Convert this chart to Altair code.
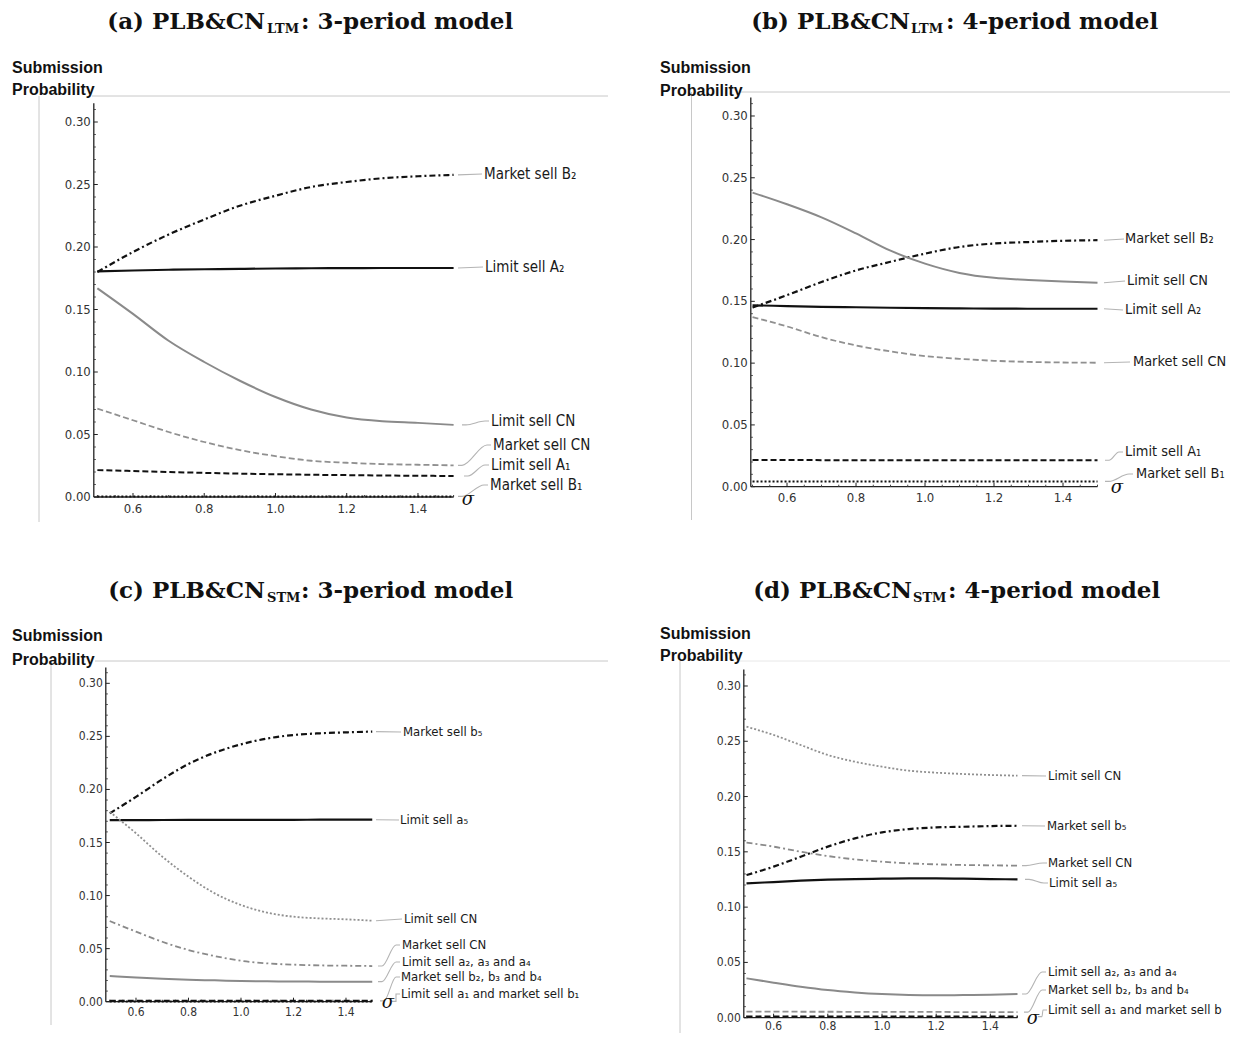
import altair as alt
import numpy as np
import pandas as pd

# ---------------- data ----------------
SIGMA = [0.5, 0.6, 0.7, 0.8, 0.9, 1.0, 1.1, 1.2, 1.3, 1.4, 1.5]

Y_TICKS = [0.00, 0.05, 0.10, 0.15, 0.20, 0.25, 0.30]
Y_TICK_LABELS = ["0.00", "0.05", "0.10", "0.15", "0.20", "0.25", "0.30"]
X_TICKS = [0.6, 0.8, 1.0, 1.2, 1.4]
X_TICK_LABELS = ["0.6", "0.8", "1.0", "1.2", "1.4"]
Y_MINOR = [round(v, 2) for v in np.arange(0.01, 0.311, 0.01) if round(v * 100) % 5 != 0]
X_MINOR = [0.5, 0.55, 0.65, 0.7, 0.75, 0.85, 0.9, 0.95, 1.05, 1.1, 1.15, 1.25, 1.3, 1.35, 1.45, 1.5]

# (a) PLB&CN_LTM : 3-period model
A_NAMES = ["Market sell B₂", "Limit sell A₂", "Limit sell CN", "Market sell CN", "Limit sell A₁", "Market sell B₁"]
A_MKT_B2 = [0.180, 0.196, 0.210, 0.222, 0.233, 0.241, 0.248, 0.252, 0.255, 0.2566, 0.2577]
A_LIM_A2 = [0.1805, 0.1812, 0.1818, 0.1822, 0.1825, 0.1828, 0.1830, 0.1831, 0.1832, 0.1832, 0.1832]
A_LIM_CN = [0.167, 0.1465, 0.125, 0.108, 0.093, 0.080, 0.070, 0.0636, 0.0606, 0.0593, 0.0577]
A_MKT_CN = [0.0707, 0.0614, 0.052, 0.044, 0.0375, 0.0327, 0.029, 0.0274, 0.0263, 0.0258, 0.0253]
A_LIM_A1 = [0.0215, 0.0208, 0.0200, 0.0193, 0.0187, 0.0182, 0.0178, 0.0175, 0.0172, 0.0170, 0.0168]
A_MKT_B1 = [0.0005, 0.0005, 0.0005, 0.0005, 0.0005, 0.0005, 0.0005, 0.0005, 0.0005, 0.0005, 0.0005]

# (b) PLB&CN_LTM : 4-period model
B_NAMES = ["Market sell B₂", "Limit sell A₂", "Limit sell CN", "Market sell CN", "Limit sell A₁", "Market sell B₁"]
B_MKT_B2 = [0.145, 0.155, 0.1657, 0.175, 0.182, 0.1886, 0.194, 0.1968, 0.198, 0.199, 0.1995]
B_LIM_A2 = [0.1468, 0.1462, 0.1456, 0.1452, 0.1448, 0.1445, 0.1443, 0.1441, 0.1440, 0.1440, 0.1440]
B_LIM_CN = [0.238, 0.2286, 0.218, 0.205, 0.191, 0.1805, 0.173, 0.169, 0.1673, 0.166, 0.165]
B_MKT_CN = [0.1373, 0.1297, 0.121, 0.1143, 0.1095, 0.1057, 0.1035, 0.1019, 0.101, 0.1005, 0.1003]
B_LIM_A1 = [0.0216, 0.0216, 0.0215, 0.0215, 0.0215, 0.0215, 0.0214, 0.0214, 0.0214, 0.0214, 0.0214]
B_MKT_B1 = [0.0043, 0.0043, 0.0043, 0.0043, 0.0043, 0.0043, 0.0043, 0.0043, 0.0043, 0.0043, 0.0043]

# (c) PLB&CN_STM : 3-period model
C_NAMES = ["Market sell b₅", "Limit sell a₅", "Limit sell CN", "Market sell CN",
           "Limit sell a₂, a₃ and a₄", "Market sell b₂, b₃ and b₄", "Limit sell a₁ and market sell b₁"]
C_MKT_B5 = [0.1775, 0.193, 0.2095, 0.224, 0.2347, 0.2425, 0.248, 0.2513, 0.2529, 0.2538, 0.2545]
C_LIM_A5 = [0.1710, 0.1711, 0.1712, 0.1713, 0.1713, 0.1714, 0.1714, 0.1714, 0.1715, 0.1715, 0.1715]
C_LIM_CN = [0.179, 0.1587, 0.1367, 0.1178, 0.1021, 0.0911, 0.0839, 0.0801, 0.0785, 0.0776, 0.0763]
C_MKT_CN = [0.076, 0.066, 0.0565, 0.0487, 0.043, 0.0386, 0.0361, 0.0349, 0.0342, 0.0339, 0.0336]
C_LIM_A234 = [0.0242, 0.0229, 0.0217, 0.0207, 0.0201, 0.0195, 0.0192, 0.0190, 0.0189, 0.0189, 0.0189]
C_MKT_B234 = [0.0008, 0.0008, 0.0008, 0.0008, 0.0008, 0.0008, 0.0008, 0.0008, 0.0008, 0.0008, 0.0008]
C_LIM_A1 = [0.0003, 0.0003, 0.0003, 0.0003, 0.0003, 0.0003, 0.0003, 0.0003, 0.0003, 0.0003, 0.0003]

# (d) PLB&CN_STM : 4-period model
D_NAMES = ["Limit sell CN", "Market sell b₅", "Market sell CN", "Limit sell a₅",
           "Limit sell a₂, a₃ and a₄", "Market sell b₂, b₃ and b₄", "Limit sell a₁ and market sell b"]
D_LIM_CN = [0.2632, 0.2557, 0.2466, 0.2376, 0.2315, 0.227, 0.2234, 0.2216, 0.2204, 0.2195, 0.2189]
D_MKT_B5 = [0.129, 0.1366, 0.1456, 0.1547, 0.1622, 0.1676, 0.1706, 0.1721, 0.1727, 0.1733, 0.1736]
D_MKT_CN = [0.1583, 0.1547, 0.1501, 0.1462, 0.1432, 0.1411, 0.1396, 0.1387, 0.1381, 0.1378, 0.1375]
D_LIM_A5 = [0.1215, 0.1227, 0.1239, 0.1248, 0.1254, 0.1257, 0.126, 0.126, 0.1257, 0.1254, 0.1251]
D_LIM_A234 = [0.0356, 0.0317, 0.028, 0.025, 0.0229, 0.0214, 0.0205, 0.0202, 0.0205, 0.0208, 0.0214]
D_MKT_B234 = [0.0055, 0.0055, 0.0054, 0.0054, 0.0053, 0.0053, 0.0052, 0.0052, 0.0051, 0.0051, 0.0050]
D_LIM_A1 = [0.0010, 0.0010, 0.0010, 0.0010, 0.0010, 0.0010, 0.0010, 0.0010, 0.0010, 0.0010, 0.0010]

TITLES = {
    "a": ("(a) PLB&CN", "LTM", ": 3-period model"),
    "b": ("(b) PLB&CN", "LTM", ": 4-period model"),
    "c": ("(c) PLB&CN", "STM", ": 3-period model"),
    "d": ("(d) PLB&CN", "STM", ": 4-period model"),
}

# ---------------- styles & layout (page pixels) ----------------
OFF = 8.0
LABEL_FONT = "DejaVu Sans Condensed, Liberation Sans, sans-serif"
TICK_FONT = "DejaVu Sans Condensed, Liberation Sans, sans-serif"

STYLES = {
    "blk_solid": dict(color="#111111", strokeWidth=2.2),
    "blk_dashdot": dict(color="#111111", strokeWidth=2.2, strokeDash=[6, 3, 2, 3]),
    "blk_dashed": dict(color="#111111", strokeWidth=2.0, strokeDash=[6, 3]),
    "blk_dotted": dict(color="#111111", strokeWidth=2.0, strokeDash=[2, 2]),
    "gry_solid": dict(color="#8a8a8a", strokeWidth=2.0),
    "gry_dashed": dict(color="#909090", strokeWidth=1.8, strokeDash=[6, 3]),
    "gry_dotted": dict(color="#909090", strokeWidth=1.8, strokeDash=[2, 2]),
    "gry_dashdot": dict(color="#8a8a8a", strokeWidth=1.8, strokeDash=[6, 3, 2, 3]),
}

LAYOUT = {
    "a": dict(x0=93.8, x1=453.6, xmin=0.49, y0=497.0, ytop=103.25, ymax=0.315,
              tick_fs=13, label_fs=15, xlab_dy=12,
              title=(265, 267, 301, 29, 33), sub=(12, 68, 90),
              hrule=(92, 608, 96, "#c8c8c8"), vrule=(39, 96, 522),
              sigma=(468, 500),
              labels=[(458, 482, 174, 484), (458, 483, 267, 485), (462, 489, 421, 491),
                      (458, 491, 445, 493), (464, 489, 465, 491), (458, 488, 485, 490)]),
    "b": dict(x0=750.8, x1=1097.5, xmin=0.495, y0=486.7, ytop=97.45, ymax=0.315,
              tick_fs=13, label_fs=14.4, xlab_dy=11,
              title=(910, 911, 946, 29, 33), sub=(660, 68, 91),
              hrule=(739, 1238, 92, "#c8c8c8"), vrule=(691.5, 92, 520),
              sigma=(1117, 488),
              labels=[(1104, 1124, 239, 1125), (1104, 1123, 310, 1125), (1104, 1125, 281, 1127),
                      (1104, 1130, 362, 1133), (1105, 1123, 452, 1125), (1105, 1133, 474, 1136)]),
    "c": dict(x0=105.8, x1=372.25, xmin=0.485, y0=1001.7, ytop=667.4, ymax=0.315,
              tick_fs=12, label_fs=13, xlab_dy=10,
              title=(265, 267, 301, 598, 602), sub=(12, 636, 660),
              hrule=(95, 608, 661, "#c8c8c8"), vrule=(51, 661, 1025),
              sigma=(388, 1003),
              labels=[(376, 401, 732, 403), (376, 399, 820, 400), (376, 402, 919, 404),
                      (378, 400, 945, 402), (378, 400, 962, 402), (380, 400, 977, 401),
                      (392, 400, 994, 401)]),
    "d": dict(x0=743.8, x1=1017.5, xmin=0.49, y0=1017.7, ytop=669.4, ymax=0.315,
              tick_fs=12, label_fs=13, xlab_dy=8.5,
              title=(912, 913, 948, 598, 602), sub=(660, 634, 656),
              hrule=(740, 1238, 661, "#e8e8e8"), vrule=(680, 661, 1041),
              sigma=(1033, 1019),
              labels=[(1022, 1046, 776, 1048), (1022, 1045, 826, 1047), (1022, 1047, 863, 1048),
                      (1025, 1048, 883, 1049), (1022, 1046, 972, 1048), (1024, 1046, 990, 1048),
                      (1038, 1047, 1010, 1048)]),
}

ONE = pd.DataFrame({"k": [0]})


def V(px):
    return alt.value(px - OFF)


def build_panel(key, names, series, styles):
    L = LAYOUT[key]
    xsc = alt.Scale(domain=[L["xmin"], 1.5], range=[L["x0"] - OFF, L["x1"] - OFF], nice=False, zero=False)
    ysc = alt.Scale(domain=[0.0, L["ymax"]], range=[L["y0"] - OFF, L["ytop"] - OFF], nice=False, zero=False)

    def X(f):
        return alt.X(f, type="quantitative", scale=xsc, axis=None)

    def Y(f):
        return alt.Y(f, type="quantitative", scale=ysc, axis=None)

    def px_x(px):
        return L["xmin"] + (px - L["x0"]) / (L["x1"] - L["x0"]) * (1.5 - L["xmin"])

    def px_y(py):
        return (L["y0"] - py) / (L["y0"] - L["ytop"]) * L["ymax"]

    def y_px(v):
        return L["y0"] - v / L["ymax"] * (L["y0"] - L["ytop"])

    layers = []
    # frame lines of the original figure crop
    hx0, hx1, hy, hcol = L["hrule"]
    layers.append(alt.Chart(ONE).mark_rule(color=hcol, strokeWidth=1).encode(x=V(hx0), x2=V(hx1), y=V(hy)))
    vx, vy0, vy1 = L["vrule"]
    layers.append(alt.Chart(ONE).mark_rule(color="#c8c8c8", strokeWidth=1).encode(x=V(vx), y=V(vy0), y2=V(vy1)))

    # axis lines
    ax = pd.DataFrame({"xa": [L["xmin"]], "xb": [1.5], "ya": [0.0], "yb": [L["ymax"]]})
    layers.append(alt.Chart(ax).mark_rule(color="#222222", strokeWidth=1.3).encode(x=X("xa"), y=Y("ya"), y2="yb"))
    layers.append(alt.Chart(ax).mark_rule(color="#222222", strokeWidth=1.3).encode(x=X("xa"), x2="xb", y=Y("ya")))

    axx, axy = L["x0"], L["y0"]
    yt = pd.DataFrame({"v": Y_TICKS, "lab": Y_TICK_LABELS})
    ym = pd.DataFrame({"v": Y_MINOR})
    xt = pd.DataFrame({"v": X_TICKS, "lab": X_TICK_LABELS})
    xm = pd.DataFrame({"v": X_MINOR})
    layers.append(alt.Chart(yt).mark_rule(color="#222222", strokeWidth=1).encode(y=Y("v"), x=V(axx), x2=V(axx + 4)))
    layers.append(alt.Chart(ym).mark_rule(color="#444444", strokeWidth=1).encode(y=Y("v"), x=V(axx), x2=V(axx + 2)))
    layers.append(alt.Chart(xt).mark_rule(color="#222222", strokeWidth=1).encode(x=X("v"), y=V(axy), y2=V(axy - 4)))
    layers.append(alt.Chart(xm).mark_rule(color="#444444", strokeWidth=1).encode(x=X("v"), y=V(axy), y2=V(axy - 2)))
    layers.append(alt.Chart(yt).mark_text(align="right", baseline="middle", font=TICK_FONT,
                                          fontSize=L["tick_fs"], color="#333333")
                  .encode(y=Y("v"), x=V(axx - 3), text="lab:N"))
    layers.append(alt.Chart(xt).mark_text(align="center", baseline="middle", font=TICK_FONT,
                                          fontSize=L["tick_fs"], color="#333333")
                  .encode(x=X("v"), y=V(axy + L["xlab_dy"]), text="lab:N"))

    # series lines
    for vals, st in zip(series, styles):
        df = pd.DataFrame({"s": SIGMA, "p": vals})
        layers.append(alt.Chart(df).mark_line(interpolate="monotone", strokeCap="butt", **STYLES[st])
                      .encode(x=X("s"), y=Y("p")))

    # leader lines and labels
    lab_rows = []
    for i, (lx0, lx1, ly, tx) in enumerate(L["labels"]):
        yend = series[i][-1]
        ylab = px_y(ly)
        if abs(ly - y_px(yend)) < 2.5:
            pts = [(px_x(lx0), yend), (px_x(lx1), ylab)]
        else:
            pts = [(px_x(lx0), yend), (px_x(lx0 + 4), yend), (px_x(lx1 - 4), ylab), (px_x(lx1), ylab)]
        ld = pd.DataFrame({"lx": [p[0] for p in pts], "ly": [p[1] for p in pts]})
        layers.append(alt.Chart(ld).mark_line(color="#b4b4b4", strokeWidth=1.1, interpolate="monotone")
                      .encode(x=X("lx"), y=Y("ly")))
        lab_rows.append({"x": px_x(tx), "y": ylab, "name": names[i]})
    labdf = pd.DataFrame(lab_rows)
    layers.append(alt.Chart(labdf).mark_text(align="left", baseline="middle", font=LABEL_FONT,
                                             fontSize=L["label_fs"], color="#1a1a1a")
                  .encode(x=X("x"), y=Y("y"), text="name:N"))

    # sigma axis label
    sx, sy = L["sigma"]
    sd = pd.DataFrame({"x": [px_x(sx)], "y": [px_y(sy)], "t": ["σ"]})
    layers.append(alt.Chart(sd).mark_text(align="center", baseline="middle", font="DejaVu Serif",
                                          fontStyle="italic", fontSize=18, color="#111111")
                  .encode(x=X("x"), y=Y("y"), text="t:N"))

    # y-axis title
    ux, uy1, uy2 = L["sub"]
    for txt, yy in (("Submission", uy1), ("Probability", uy2)):
        layers.append(alt.Chart(ONE).mark_text(align="left", baseline="middle", font="Liberation Sans",
                                               fontWeight="bold", fontSize=16, color="#111111", text=txt)
                      .encode(x=V(ux), y=V(yy)))

    # panel title with small-caps subscript
    t1, t2, t3 = TITLES[key]
    rx, sx2, lx3, by, sby = L["title"]
    layers.append(alt.Chart(ONE).mark_text(align="right", baseline="alphabetic", font="DejaVu Serif",
                                           fontWeight="bold", fontSize=23, color="#111111", text=t1)
                  .encode(x=V(rx), y=V(by)))
    layers.append(alt.Chart(ONE).mark_text(align="left", baseline="alphabetic", font="DejaVu Serif",
                                           fontWeight="bold", fontSize=13, color="#111111", text=t2)
                  .encode(x=V(sx2), y=V(sby)))
    layers.append(alt.Chart(ONE).mark_text(align="left", baseline="alphabetic", font="DejaVu Serif",
                                           fontWeight="bold", fontSize=23, color="#111111", text=t3)
                  .encode(x=V(lx3), y=V(by)))
    return alt.layer(*layers)


pa = build_panel("a", A_NAMES, [A_MKT_B2, A_LIM_A2, A_LIM_CN, A_MKT_CN, A_LIM_A1, A_MKT_B1],
                 ["blk_dashdot", "blk_solid", "gry_solid", "gry_dashed", "blk_dashed", "blk_dotted"])
pb = build_panel("b", B_NAMES, [B_MKT_B2, B_LIM_A2, B_LIM_CN, B_MKT_CN, B_LIM_A1, B_MKT_B1],
                 ["blk_dashdot", "blk_solid", "gry_solid", "gry_dashed", "blk_dashed", "blk_dotted"])
pc = build_panel("c", C_NAMES, [C_MKT_B5, C_LIM_A5, C_LIM_CN, C_MKT_CN, C_LIM_A234, C_MKT_B234, C_LIM_A1],
                 ["blk_dashdot", "blk_solid", "gry_dotted", "gry_dashdot", "gry_solid", "blk_dashed", "blk_dotted"])
pd_ = build_panel("d", D_NAMES, [D_LIM_CN, D_MKT_B5, D_MKT_CN, D_LIM_A5, D_LIM_A234, D_MKT_B234, D_LIM_A1],
                  ["gry_dotted", "blk_dashdot", "gry_dashdot", "blk_solid", "gry_solid", "gry_dashed", "blk_dashed"])

chart = (
    alt.layer(pa, pb, pc, pd_)
    .resolve_scale(x="independent", y="independent")
    .properties(width=1222, height=1025, autosize=alt.AutoSizeParams(type="none"), padding=0)
    .configure_view(strokeWidth=0)
)

chart.save("out.html", embed_options={"renderer": "svg", "actions": False})
